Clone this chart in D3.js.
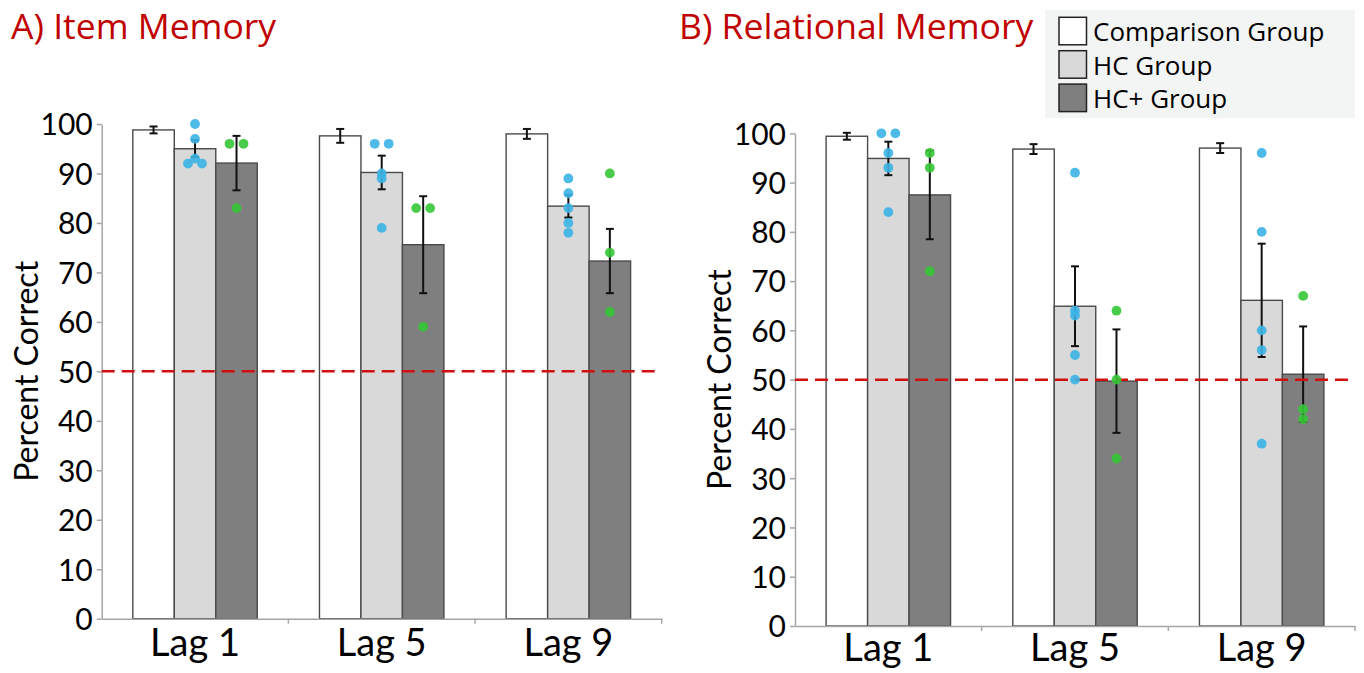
<!DOCTYPE html>
<html>
<head>
<meta charset="utf-8">
<script src="https://cdn.jsdelivr.net/npm/d3@7"></script>
<style>
  html, body { margin: 0; padding: 0; background: #fff; }
  #sandbox { width: 1364px; height: 673px; }
</style>
</head>
<body>
<div id="sandbox"></div>
<script>
// Data
const lags = ["Lag 1", "Lag 5", "Lag 9"];
const groups = ["Comparison Group", "HC Group", "HC+ Group"];
const yTicks = [0, 10, 20, 30, 40, 50, 60, 70, 80, 90, 100];
const chanceLevel = 50;

// A) Item memory
const itemComparison = [98.8, 97.6, 98.0];
const itemComparisonErr = [0.7, 1.4, 1.0];
const itemHC = [95.0, 90.2, 83.4];
const itemHCErr = [1.7, 3.4, 2.3];
const itemHCPlus = [92.1, 75.6, 72.3];
const itemHCPlusErr = [5.5, 9.8, 6.5];
const itemHCDots = [[100, 97, 93, 92, 92], [96, 96, 90, 89, 79], [89, 86, 83, 80, 78]];
const itemHCPlusDots = [[96, 96, 83], [83, 83, 59], [90, 74, 62]];

// B) Relational memory
const relComparison = [99.4, 96.8, 97.0];
const relComparisonErr = [0.7, 1.0, 1.0];
const relHC = [94.9, 64.9, 66.1];
const relHCErr = [3.4, 8.1, 11.5];
const relHCPlus = [87.5, 49.7, 51.1];
const relHCPlusErr = [9.0, 10.5, 9.7];
const relHCDots = [[100, 100, 96, 93, 84], [92, 64, 63, 55, 50], [96, 80, 60, 56, 37]];
const relHCPlusDots = [[96, 93, 72], [64, 50, 34], [67, 44, 42]];

const barFill = ["#ffffff", "#d9d9d9", "#7f7f7f"];
const dotFill = { "HC Group": "#3bb3e4", "HC+ Group": "#35c635" };

const width = 1364;
const height = 673;

const svg = d3.select("#sandbox")
    .append("svg")
    .attr("width", width)
    .attr("height", height);

function drawPanel(p) {
    const g = svg.append("g");

    const x = d3.scaleBand().domain(lags).range(p.xRange);
    const xInner = d3.scaleBand().domain(groups).range([0, x.bandwidth()]).paddingOuter(0.75);
    const y = d3.scaleLinear().domain([0, 100]).range(p.yRange);

    // bars
    const bars = [];
    groups.forEach((grp, gi) => {
        lags.forEach((lag, li) => {
            bars.push({ lag, grp, gi, value: p.means[gi][li], err: p.errs[gi][li] });
        });
    });

    g.selectAll("rect.bar")
        .data(bars)
        .enter()
        .append("rect")
        .attr("class", "bar")
        .attr("x", d => x(d.lag) + xInner(d.grp))
        .attr("width", xInner.bandwidth())
        .attr("y", d => y(d.value))
        .attr("height", d => y(0) - y(d.value))
        .attr("fill", d => barFill[d.gi])
        .attr("stroke", "#4a4a4a")
        .attr("stroke-width", 1.4);

    // error bars
    const cx = d => x(d.lag) + xInner(d.grp) + xInner.bandwidth() / 2;
    const eb = g.selectAll("g.err").data(bars).enter().append("g").attr("class", "err")
        .attr("stroke", "#111").attr("stroke-width", 2);
    eb.append("line")
        .attr("x1", cx).attr("x2", cx)
        .attr("y1", d => y(d.value + d.err)).attr("y2", d => y(d.value - d.err));
    eb.append("line")
        .attr("x1", d => cx(d) - 4).attr("x2", d => cx(d) + 4)
        .attr("y1", d => y(d.value + d.err)).attr("y2", d => y(d.value + d.err));
    eb.append("line")
        .attr("x1", d => cx(d) - 4).attr("x2", d => cx(d) + 4)
        .attr("y1", d => y(d.value - d.err)).attr("y2", d => y(d.value - d.err));

    // axes
    const yAxis = g.append("g")
        .attr("transform", `translate(${p.xRange[0]},0)`)
        .call(d3.axisLeft(y).tickValues(yTicks).tickSize(5).tickSizeOuter(0).tickPadding(4));
    yAxis.select(".domain").attr("stroke", "#a6a6a6").attr("stroke-width", 1.5);
    yAxis.selectAll(".tick line").attr("stroke", "#a6a6a6").attr("stroke-width", 1.5);
    yAxis.selectAll(".tick text")
        .attr("font-family", "Lato, sans-serif")
        .attr("font-size", 30)
        .attr("fill", "#000")
        .attr("dy", "0.36em");

    const xAxis = g.append("g")
        .attr("transform", `translate(0,${y(0)})`)
        .call(d3.axisBottom(x).tickSize(0).tickSizeOuter(0).tickPadding(p.labelPad));
    xAxis.select(".domain").attr("stroke", "#a6a6a6").attr("stroke-width", 1.5);
    xAxis.selectAll(".tick text")
        .attr("font-family", "Lato, sans-serif")
        .attr("font-size", 38)
        .attr("fill", "#000");

    // category boundary ticks
    g.selectAll("line.sep")
        .data(lags.slice(1).concat(["end"]))
        .enter()
        .append("line")
        .attr("x1", (d, i) => p.xRange[0] + (i + 1) * x.step())
        .attr("x2", (d, i) => p.xRange[0] + (i + 1) * x.step())
        .attr("y1", y(0))
        .attr("y2", y(0) + 5)
        .attr("stroke", "#a6a6a6")
        .attr("stroke-width", 1.5);

    // chance line
    g.append("line")
        .attr("x1", p.xRange[0]).attr("x2", p.xRange[1])
        .attr("y1", y(chanceLevel)).attr("y2", y(chanceLevel))
        .attr("stroke", "#d01010")
        .attr("stroke-width", 2.5)
        .attr("stroke-dasharray", "13,7");

    // individual participants
    const dots = [];
    [["HC Group", p.hcDots], ["HC+ Group", p.hcPlusDots]].forEach(([grp, arr]) => {
        arr.forEach((vals, li) => {
            const counts = d3.rollup(vals, v => v.length, v => v);
            const seen = new Map();
            vals.forEach(v => {
                const n = counts.get(v);
                const k = seen.get(v) || 0;
                seen.set(v, k + 1);
                dots.push({ lag: lags[li], grp, value: v, shift: (k - (n - 1) / 2) * 14 });
            });
        });
    });

    g.selectAll("circle.dot")
        .data(dots)
        .enter()
        .append("circle")
        .attr("class", "dot")
        .attr("cx", d => cx(d) + d.shift)
        .attr("cy", d => y(d.value))
        .attr("r", 4.9)
        .attr("fill", d => dotFill[d.grp])
        .attr("fill-opacity", 0.9);

    // y label
    g.append("text")
        .attr("transform", `translate(${p.yLabelX},${(p.yRange[0] + p.yRange[1]) / 2}) rotate(-90)`)
        .attr("text-anchor", "middle")
        .attr("font-family", "Lato, sans-serif")
        .attr("font-size", 32)
        .attr("fill", "#000")
        .text("Percent Correct");

    // title
    svg.append("text")
        .attr("x", p.titleX)
        .attr("y", 39)
        .attr("font-family", "Open Sans, sans-serif")
        .attr("font-size", 35.5)
        .attr("fill", "#c00000")
        .text(p.title);
}

drawPanel({
    title: "A) Item Memory",
    titleX: 11,
    xRange: [101.7, 661.7],
    yRange: [618.7, 124],
    yLabelX: 38,
    labelPad: 10,
    means: [itemComparison, itemHC, itemHCPlus],
    errs: [itemComparisonErr, itemHCErr, itemHCPlusErr],
    hcDots: itemHCDots,
    hcPlusDots: itemHCPlusDots
});

drawPanel({
    title: "B) Relational Memory",
    titleX: 679,
    xRange: [795, 1355],
    yRange: [626, 133.3],
    yLabelX: 731,
    labelPad: 8,
    means: [relComparison, relHC, relHCPlus],
    errs: [relComparisonErr, relHCErr, relHCPlusErr],
    hcDots: relHCDots,
    hcPlusDots: relHCPlusDots
});

// legend
const legend = svg.append("g").attr("transform", "translate(1045,10)");
legend.append("rect")
    .attr("width", 310)
    .attr("height", 108)
    .attr("fill", "#f3f4f4");
const items = legend.selectAll("g.item")
    .data(groups)
    .enter()
    .append("g")
    .attr("transform", (d, i) => `translate(14,${7.3 + i * 33.4})`);
items.append("rect")
    .attr("width", 27.5)
    .attr("height", 27.5)
    .attr("fill", (d, i) => barFill[i])
    .attr("stroke", "#222")
    .attr("stroke-width", 1.5);
items.append("text")
    .attr("x", 34)
    .attr("y", 24)
    .attr("font-family", "Open Sans, sans-serif")
    .attr("font-size", 26)
    .attr("fill", "#000")
    .text(d => d);
</script>
</body>
</html>
